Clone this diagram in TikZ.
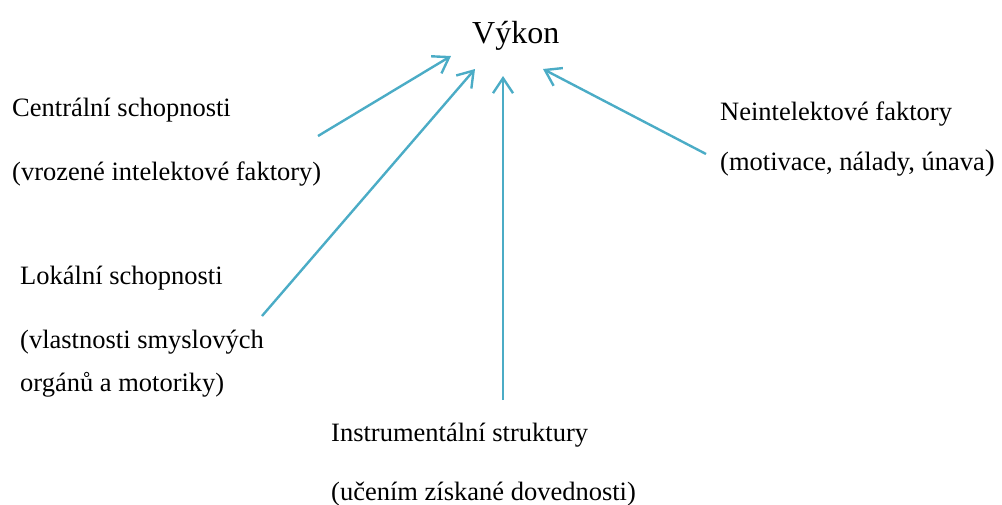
\documentclass[tikz,border=0pt]{standalone}
\usepackage{fontspec}
\setmainfont{Liberation Serif}
\usetikzlibrary{arrows.meta}
\definecolor{arrowblue}{HTML}{4BACC6}
\tikzset{
  lbl/.style={anchor=base west, inner sep=0pt, font=\fontsize{26.5}{30}\selectfont},
  title/.style={anchor=base west, inner sep=0pt, font=\fontsize{32}{36}\selectfont},
  conn/.style={draw=arrowblue, line width=2.4pt, -{Straight Barb[length=15pt,width=20pt,line width=2.4pt]}}
}
\begin{document}
\begin{tikzpicture}[x=1pt,y=-1pt]
\useasboundingbox (0,0) rectangle (1002,504);
\node[title] (vykon) at (472,43) {Výkon};
\node[lbl] (c1) at (12,116) {Centrální schopnosti};
\node[lbl] (c2) at (12,180) {(vrozené intelektové faktory)};
\node[lbl] (n1) at (720,120) {Neintelektové faktory};
\node[lbl] (n2) at (720,170) {(motivace, nálady, únava{\fontsize{30}{30}\selectfont )}};
\node[lbl] (l1) at (20,284) {Lokální schopnosti};
\node[lbl] (l2) at (20,348) {(vlastnosti smyslových};
\node[lbl] (l3) at (20,391) {orgánů a motoriky)};
\node[lbl] (i1) at (331,441) {Instrumentální struktury};
\node[lbl] (i2) at (331,500) {(učením získané dovednosti)};
\coordinate (cS) at (318,136);
\coordinate (cT) at (451,56);
\coordinate (lS) at (262,316);
\coordinate (lT) at (475,69);
\coordinate (iS) at (503,400);
\coordinate (iT) at (503,76);
\coordinate (nS) at (706,154);
\coordinate (nT) at (543,69);
\draw[conn] (cS) -- (cT);
\draw[conn] (lS) -- (lT);
\draw[conn] (iS) -- (iT);
\draw[conn] (nS) -- (nT);
\end{tikzpicture}
\end{document}
